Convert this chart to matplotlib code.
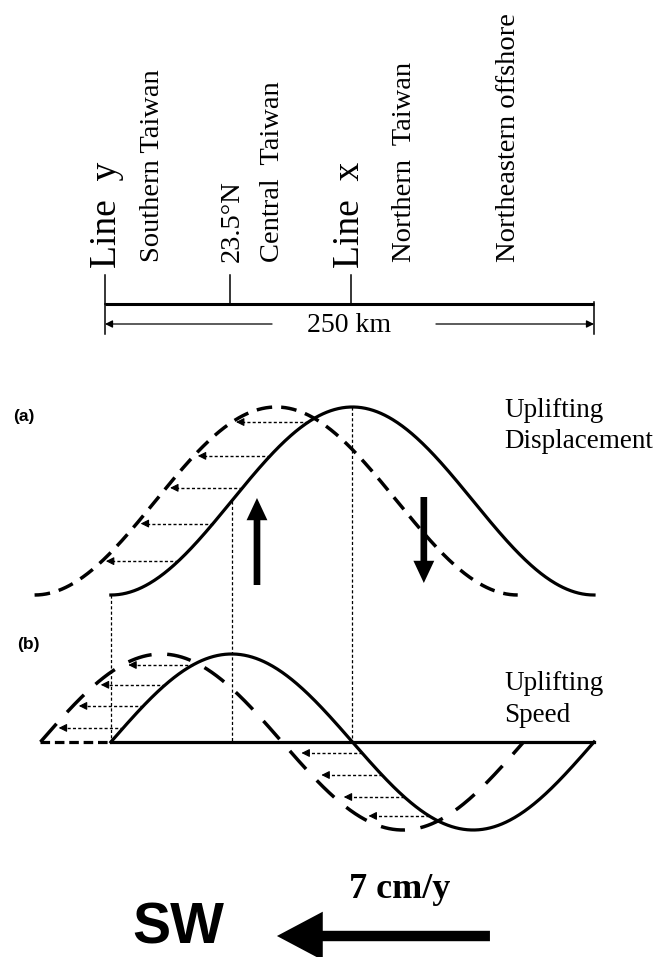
import numpy as np
import matplotlib.pyplot as plt

# distances along strike, km from Line y
scale_km = 250
tick_km = [0, 64, 126]
line_names = ['Line  y', 'Line  x']
line_km = [1, 125]
place_names = ['Southern Taiwan', '23.5°N', 'Central  Taiwan',
               'Northern  Taiwan', 'Northeastern offshore']
place_km = [24.5, 65, 85.5, 153, 206.5]

# one wavelength of the uplift wave (solid = now, dashed = migrated to SW)
wave_km = [3, 250]
shift_km = [39, 36]          # migration seen in (a) and (b)
disp_levels = [0.92, 0.74, 0.57, 0.38, 0.18]      # arrow levels in (a), fraction of peak
speed_levels_up = [0.875, 0.65, 0.41, 0.16]       # arrow levels in (b), positive lobe
speed_levels_dn = [0.125, 0.375, 0.625, 0.84]     # arrow levels in (b), negative lobe
plate_speed = '7 cm/y'

serif = 'Liberation Serif'
sans = 'Liberation Sans'
px_km = 489 / scale_km

fig = plt.figure(figsize=(6.58, 9.57), dpi=100)
ax = fig.add_axes([0, 0, 1, 1])
ax.set_xlim(-105 / px_km, (658 - 105) / px_km)
ax.set_ylim(957, 0)
ax.axis('off')

# ---- scale bar and locations
bar_y = 304
ax.plot([0, scale_km], [bar_y, bar_y], color='k', lw=2.2, solid_capstyle='butt')
for k in tick_km:
    ax.plot([k, k], [275, bar_y], color='k', lw=1.1)
ax.plot([0, 0], [bar_y, 334], color='k', lw=1.1)
ax.plot([scale_km, scale_km], [bar_y - 2, 334], color='k', lw=1.1)
dim = dict(arrowstyle='-|>', lw=0.9, color='k', mutation_scale=11, shrinkA=0, shrinkB=0)
ax.annotate('', xy=(0, 324), xytext=(85.4, 324), arrowprops=dim)
ax.annotate('', xy=(scale_km, 324), xytext=(169.2, 324), arrowprops=dim)
ax.text(scale_km / 2, 326, '%d km' % scale_km, ha='center', va='center',
        fontsize=20, family=serif)

for name, k in zip(line_names, line_km):
    ax.text(k, 268, name, rotation=90, ha='center', va='bottom', fontsize=27, family=serif)
for name, k in zip(place_names, place_km):
    ax.text(k, 262, name, rotation=90, ha='center', va='bottom', fontsize=20.5, family=serif)

x0, x1 = wave_km
L = x1 - x0
x = np.linspace(x0, x1, 500)
th = 2 * np.pi * (x - x0) / L

dot = (0, (2.2, 1.6))
head = dict(arrowstyle='-|>', lw=0.8, color='k', mutation_scale=12, shrinkA=0, shrinkB=0)


def dotted_arrow(xs, xt, y):
    ax.plot([xs, xt + 2], [y, y], color='k', lw=1.0, ls=dot)
    ax.annotate('', xy=(xt, y), xytext=(xt + 4, y), arrowprops=head)


# ---- (a) uplifting displacement
a_base, a_amp = 595, 188
disp = a_base - a_amp * (1 - np.cos(th)) / 2
ax.plot(x, disp, color='k', lw=2.3)
ax.plot(x - shift_km[0], disp, color='k', lw=2.5, ls=(0, (4.5, 2.6)))
for h in disp_levels:
    xs = x0 + np.arccos(1 - 2 * h) / (2 * np.pi) * L
    dotted_arrow(xs, xs - shift_km[0] + 2, a_base - a_amp * h)

big = dict(arrowstyle='simple,head_length=1.6,head_width=1.5,tail_width=0.48',
           mutation_scale=10, color='k', lw=0, shrinkA=0, shrinkB=0)
ax.annotate('', xy=(77.7, 498), xytext=(77.7, 585), arrowprops=big)
ax.annotate('', xy=(163, 583), xytext=(163, 497), arrowprops=big)

ax.text(-47, 416, '(a)', ha='left', va='center', fontsize=12.5, fontweight='bold', family=sans)
ax.text(204, 417, 'Uplifting', ha='left', va='baseline', fontsize=19.5, family=serif)
ax.text(204, 448, 'Displacement', ha='left', va='baseline', fontsize=19.5, family=serif)

# ---- (b) uplifting speed
b_base, b_amp = 742, 88
speed = b_base - b_amp * np.sin(th)
ax.plot(x, speed, color='k', lw=2.3)
ax.plot([x0, x1], [b_base, b_base], color='k', lw=2.3)
ax.plot(x - shift_km[1], speed, color='k', lw=2.5, ls=(0, (7, 4.5)))
ax.plot([x0 - shift_km[1], x0], [b_base, b_base], color='k', lw=2.3, ls=(0, (3, 1.5)))
for s in speed_levels_up:
    xs = x0 + np.arcsin(s) / (2 * np.pi) * L
    dotted_arrow(xs, xs - shift_km[1] + 3, b_base - b_amp * s)
for s in speed_levels_dn:
    xs = x0 + (np.pi + np.arcsin(s)) / (2 * np.pi) * L
    dotted_arrow(xs, xs - shift_km[1] + 5, b_base + b_amp * s)

# vertical guides linking (a) and (b)
for k, top in [(x0, a_base), (x0 + L / 4, a_base - a_amp / 2), (x0 + L / 2, a_base - a_amp)]:
    ax.plot([k, k], [top, b_base], color='k', lw=0.9, ls=(0, (2.5, 1.8)))

ax.text(-45, 645, '(b)', ha='left', va='center', fontsize=12.5, fontweight='bold', family=sans)
ax.text(204, 690, 'Uplifting', ha='left', va='baseline', fontsize=19.5, family=serif)
ax.text(204, 722, 'Speed', ha='left', va='baseline', fontsize=19.5, family=serif)

# ---- plate motion
ax.text(13.8, 944, 'SW', ha='left', va='baseline', fontsize=41, fontweight='heavy', family=sans)
ax.text(150.8, 898, plate_speed, ha='center', va='baseline', fontsize=26, fontweight='bold', family=serif)
ax.annotate('', xy=(87.9, 936), xytext=(196.8, 936),
            arrowprops=dict(arrowstyle='simple,head_length=3.3,head_width=3.5,tail_width=0.75',
                            mutation_scale=10, color='k', lw=0, shrinkA=0, shrinkB=0))

fig.savefig('out.png', dpi=100, facecolor='white')
